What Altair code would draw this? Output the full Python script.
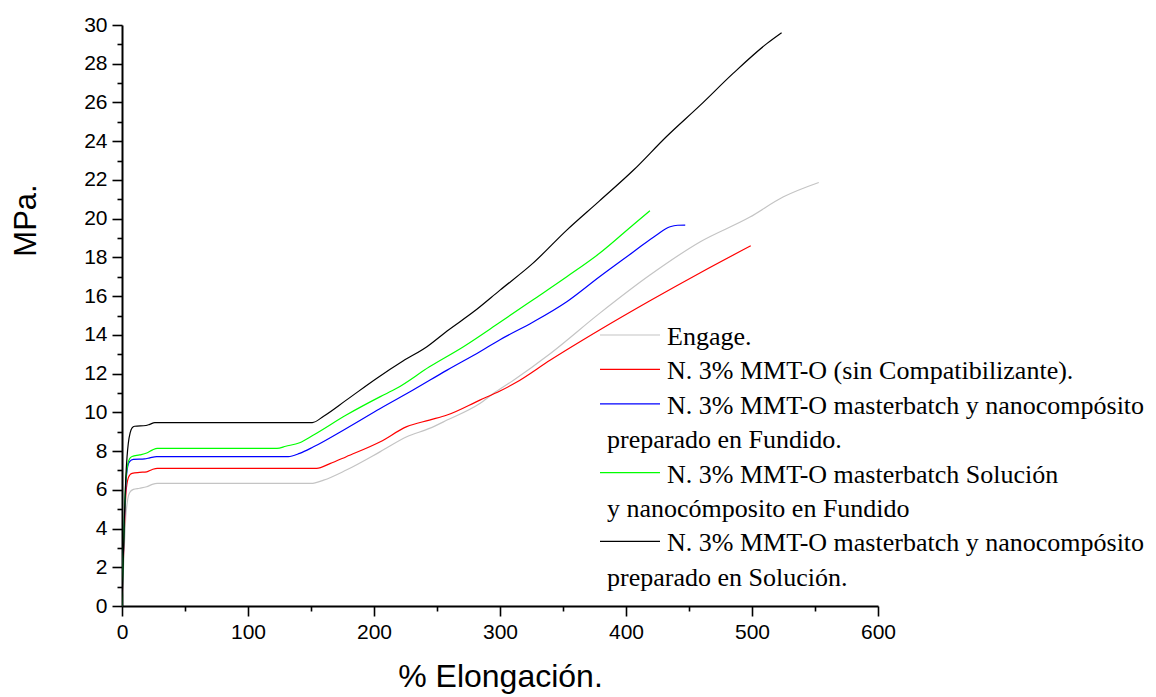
import altair as alt
import pandas as pd

# ---- data (x: % elongación, y: MPa) ----
series_names = [
    "Engage.",
    "N. 3% MMT-O (sin Compatibilizante).",
    "N. 3% MMT-O masterbatch y nanocompósito preparado en Fundido.",
    "N. 3% MMT-O masterbatch Solución y nanocómposito en Fundido",
    "N. 3% MMT-O masterbatch y nanocompósito preparado en Solución.",
]
series_colors = ["#c4c4c4", "#ff0000", "#0000ff", "#00ff00", "#000000"]

x_engage = [0, 1.5, 3, 4.5, 6, 9, 14, 19.6, 24, 28, 150, 160, 178, 205, 226, 244, 258,
            284, 295, 311, 340, 379, 419, 459, 498, 525, 553]
y_engage = [0, 2.5, 4.6, 5.5, 5.85, 6.02, 6.08, 6.16, 6.28, 6.33, 6.33, 6.5, 7.02, 7.97, 8.74, 9.17, 9.6,
            10.46, 10.98, 11.67, 13.04, 15.11, 17.09, 18.81, 20.07, 21.13, 21.87]

x_sin = [0, 1, 2, 3, 4.5, 6, 8, 14, 19.6, 24, 28, 154.5, 165, 178, 205, 226, 244, 258,
         284, 300, 313, 340, 379, 419, 459, 499]
y_sin = [0, 2.2, 4.2, 5.7, 6.5, 6.75, 6.85, 6.9, 6.93, 7.05, 7.11, 7.11, 7.35, 7.71, 8.48, 9.26, 9.6, 9.86,
         10.63, 11.1, 11.55, 12.7, 14.25, 15.76, 17.21, 18.6]

x_fund = [0, 1, 2, 3, 4.5, 6, 9, 18, 22, 27.5, 132, 141, 152, 178, 205, 231, 258, 284,
          300, 326, 353, 379, 406, 424, 435, 441, 447]
y_fund = [0, 2.4, 4.6, 6.2, 7.2, 7.45, 7.57, 7.6, 7.65, 7.71, 7.71, 7.88, 8.22, 9.17, 10.2, 11.15, 12.18, 13.13,
          13.75, 14.65, 15.71, 17.0, 18.29, 19.15, 19.58, 19.66, 19.67]

x_sol_fund = [0, 1, 2, 3, 4.5, 6, 8, 14, 19.6, 24, 28, 123, 130, 141, 152, 178, 205, 218, 244,
              271, 300, 326, 353, 379, 406, 419]
y_sol_fund = [0, 2.5, 4.8, 6.4, 7.3, 7.6, 7.72, 7.8, 7.9, 8.05, 8.14, 8.14, 8.25, 8.43, 8.83, 9.86, 10.81, 11.24, 12.35,
              13.39, 14.65, 15.8, 17.0, 18.21, 19.7, 20.41]

x_sol = [0, 1, 2, 3, 4, 5, 6.5, 8, 10, 19, 22, 26, 151, 160, 178, 202, 223, 242, 258, 279,
         300, 326, 353, 379, 406, 432, 459, 485, 512, 523.5]
y_sol = [0, 2.5, 4.8, 6.6, 7.7, 8.4, 8.95, 9.2, 9.28, 9.32, 9.38, 9.47, 9.47, 9.8, 10.63, 11.75, 12.65, 13.39, 14.2, 15.19,
         16.31, 17.69, 19.41, 20.92, 22.51, 24.23, 25.86, 27.5, 29.05, 29.6]

# legend text lines: (text, series index or None for a continuation line)
legend_rows = [
    ("Engage.", 0),
    ("N. 3% MMT-O (sin Compatibilizante).", 1),
    ("N. 3% MMT-O masterbatch y nanocompósito", 2),
    ("preparado en Fundido.", None),
    ("N. 3% MMT-O masterbatch Solución", 3),
    ("y nanocómposito en Fundido", None),
    ("N. 3% MMT-O masterbatch y nanocompósito", 4),
    ("preparado en Solución.", None),
]

# ---- build table ----
all_x = [x_engage, x_sin, x_fund, x_sol_fund, x_sol]
all_y = [y_engage, y_sin, y_fund, y_sol_fund, y_sol]
frames = []
for name, xs, ys in zip(series_names, all_x, all_y):
    frames.append(pd.DataFrame({"x": xs, "y": ys, "serie": name}))
df = pd.concat(frames, ignore_index=True)

x_vals = list(range(0, 601, 50))
y_vals = list(range(0, 31, 1))

x_axis = alt.Axis(
    values=x_vals,
    labelExpr="datum.value % 100 === 0 ? datum.label : ''",
    tickSize={"condition": {"test": "datum.value % 100 === 0", "value": 10}, "value": 5},
    tickWidth=1.6, tickColor="black", domainColor="black", domainWidth=2,
    labelFont="Liberation Sans", labelFontSize=21, labelColor="black", labelPadding=5,
    labelFlush=False, labelOverlap=False, labelBound=False, grid=False,
    title="% Elongación.", titleFont="Liberation Sans", titleFontSize=32, titleFontWeight="normal",
    titleColor="black", titleY=80, titleBaseline="alphabetic",
)
y_axis = alt.Axis(
    values=y_vals,
    labelExpr="datum.value % 2 === 0 ? datum.label : ''",
    tickSize={"condition": {"test": "datum.value % 2 === 0", "value": 10}, "value": 5},
    tickWidth=1.6, tickColor="black", domainColor="black", domainWidth=2,
    labelFont="Liberation Sans", labelFontSize=21, labelColor="black", labelPadding=5,
    labelFlush=False, labelOverlap=False, labelBound=False, grid=False,
    title="MPa.", titleFont="Liberation Sans", titleFontSize=31, titleFontWeight="normal",
    titleColor="black", titleAngle=270, titleX=-96, titleY=195, titleBaseline="middle", titleAlign="center",
)

lines = alt.Chart(df).mark_line(strokeWidth=1.2, clip=True, interpolate="monotone").encode(
    x=alt.X("x:Q", scale=alt.Scale(domain=[0, 600], nice=False, zero=False), axis=x_axis),
    y=alt.Y("y:Q", scale=alt.Scale(domain=[0, 30], nice=False, zero=False), axis=y_axis),
    color=alt.Color("serie:N", scale=alt.Scale(domain=series_names, range=series_colors), legend=None),
    order=alt.Order("x:Q"),
)

# ---- manual legend (layout in pixels relative to plot area) ----
LEG_LINE_X0, LEG_LINE_X1 = 478, 538
LEG_TEXT_X, LEG_CONT_X = 545, 485
ROW0_BASE, ROW_STEP = 320, 34.4
LINE_OFFSET = -10

layers = [lines]
for i, (txt, sidx) in enumerate(legend_rows):
    base = ROW0_BASE + i * ROW_STEP
    if sidx is not None:
        layers.append(
            alt.Chart(pd.DataFrame({"serie": [series_names[sidx]]})).mark_rule(
                color=series_colors[sidx], strokeWidth=1.2
            ).encode(x=alt.value(LEG_LINE_X0), x2=alt.value(LEG_LINE_X1), y=alt.value(base + LINE_OFFSET))
        )
    layers.append(
        alt.Chart(pd.DataFrame({"t": [txt]})).mark_text(
            align="left", baseline="alphabetic", font="Liberation Serif", fontSize=26, color="black"
        ).encode(
            x=alt.value(LEG_TEXT_X if sidx is not None else LEG_CONT_X),
            y=alt.value(base),
            text="t:N",
        )
    )

chart = alt.layer(*layers).properties(
    width=756, height=581,
    autosize=alt.AutoSizeParams(type="none"),
    padding={"left": 122, "top": 25, "right": 278, "bottom": 91},
    background="white",
).configure_view(stroke=None)

chart.save("out.html", embed_options={"renderer": "svg", "actions": False})
